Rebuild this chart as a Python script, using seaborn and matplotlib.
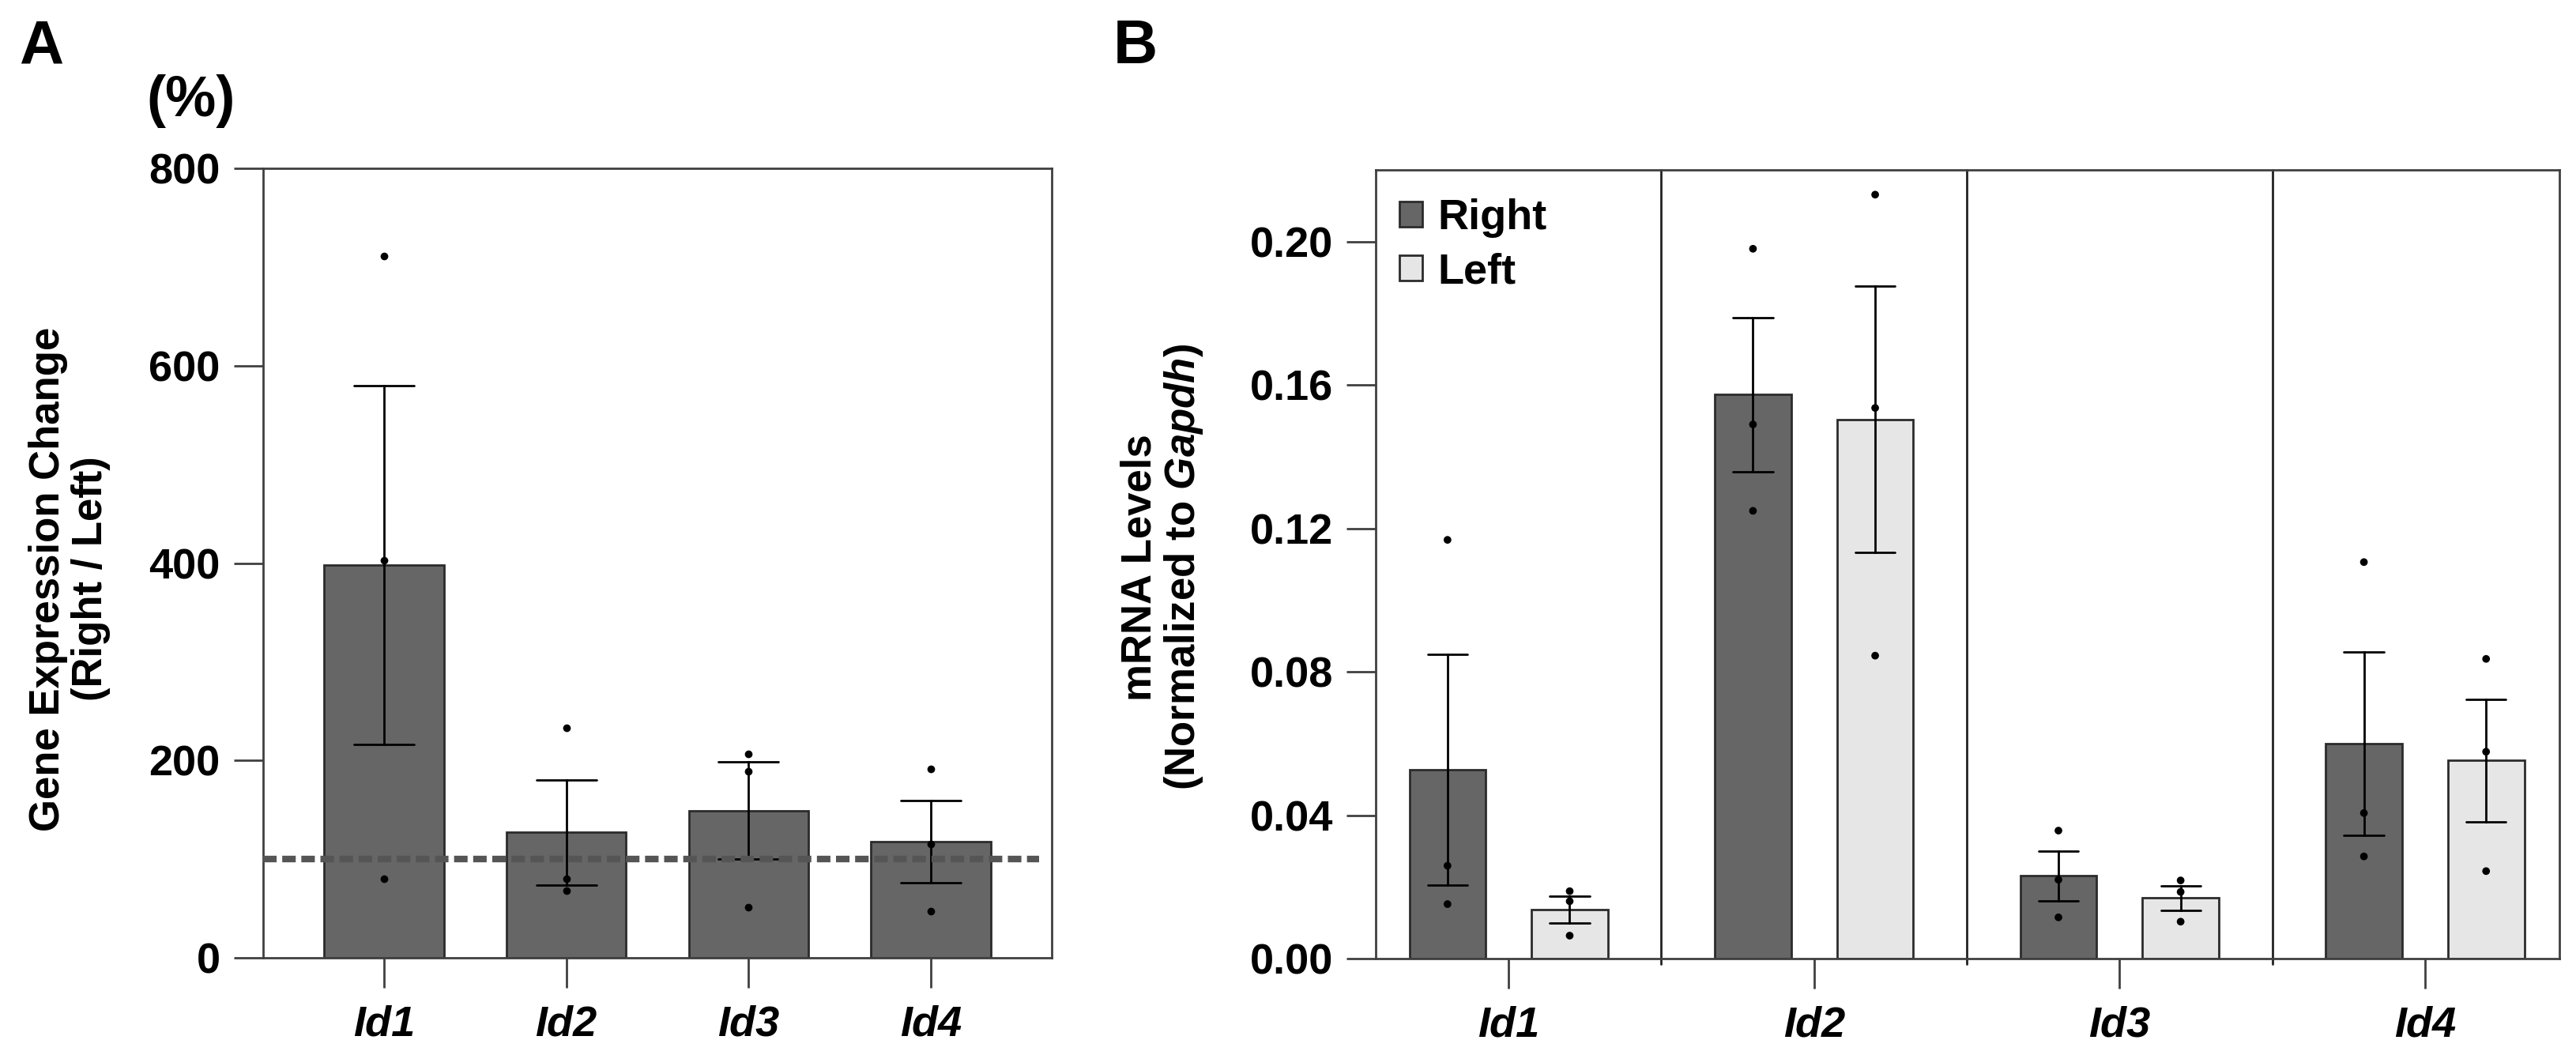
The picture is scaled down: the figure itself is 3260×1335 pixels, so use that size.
import numpy as np
import pandas as pd
import matplotlib
matplotlib.use("Agg")
import matplotlib.pyplot as plt
import seaborn as sns
from matplotlib.patches import Patch
from matplotlib.ticker import FormatStrFormatter

# ---------------- data ----------------
genes = ["Id1", "Id2", "Id3", "Id4"]
sides = ["Right", "Left"]

# Panel A: individual Right/Left ratios (%)
ratio_points = [[711, 403, 80], [233, 80, 68], [207, 189, 51], [191, 115, 47]]
ratio_ticks = [0, 200, 400, 600, 800]
baseline_pct = 100

# Panel B: individual mRNA levels (normalized to Gapdh)
right_points = [[0.1168, 0.0259, 0.0152], [0.1980, 0.1490, 0.1249],
                [0.0357, 0.0220, 0.0115], [0.1106, 0.0406, 0.0285]]
left_points = [[0.0188, 0.0160, 0.0064], [0.2131, 0.1536, 0.0845],
               [0.0218, 0.0186, 0.0103], [0.0836, 0.0577, 0.0244]]
mrna_ticks = [0.00, 0.04, 0.08, 0.12, 0.16, 0.20]

# ---------------- style ----------------
sns.set_style("ticks")
plt.rcParams["font.family"] = ["Liberation Sans", "DejaVu Sans"]
plt.rcParams["font.weight"] = "bold"
plt.rcParams["text.color"] = "black"
plt.rcParams["axes.labelcolor"] = "black"
plt.rcParams["xtick.labelcolor"] = "black"
plt.rcParams["ytick.labelcolor"] = "black"
plt.rcParams["mathtext.fontset"] = "custom"
plt.rcParams["mathtext.it"] = "Liberation Sans:italic:bold"
plt.rcParams["mathtext.rm"] = "Liberation Sans:bold"
plt.rcParams["mathtext.bf"] = "Liberation Sans:bold"

DARK = "#666666"
LIGHT = "#e6e6e6"
EDGE = "#2b2b2b"
SPINE = "#404040"
FS = 19.5

df_a = pd.DataFrame([(g, v) for g, pts in zip(genes, ratio_points) for v in pts],
                    columns=["gene", "ratio"])
df_b = pd.DataFrame([(g, s, v)
                     for s, series in zip(sides, [right_points, left_points])
                     for g, pts in zip(genes, series) for v in pts],
                    columns=["gene", "side", "level"])

fig = plt.figure(figsize=(16.3, 6.675), dpi=200)
axA = fig.add_axes([0.10215, 0.09213, 0.30613, 0.74831])
axB = fig.add_axes([0.53405, 0.09139, 0.45951, 0.74757])


def style_axes(ax):
    for sp in ax.spines.values():
        sp.set_visible(True)
        sp.set_linewidth(1.0)
        sp.set_color(SPINE)
    ax.tick_params(axis="both", direction="out", length=13.5, width=1.0,
                   color=SPINE, labelcolor="black", labelsize=FS)
    ax.tick_params(axis="y", pad=6)
    ax.tick_params(axis="x", pad=8)
    ax.set_xlabel("")
    ax.set_ylabel("")
    for lab in ax.get_xticklabels():
        lab.set_fontstyle("italic")
        lab.set_fontweight("bold")
    for lab in ax.get_yticklabels():
        lab.set_fontweight("bold")


# ---------------- Panel A ----------------
sns.barplot(data=df_a, x="gene", y="ratio", order=genes, errorbar="se",
            color=DARK, saturation=1, width=0.655, edgecolor=EDGE,
            linewidth=1.0, capsize=0.33,
            err_kws={"color": "black", "linewidth": 1.0}, ax=axA)
sns.stripplot(data=df_a, x="gene", y="ratio", order=genes, jitter=False,
              color="black", size=3.5, ax=axA, zorder=4)
axA.axhline(baseline_pct, xmin=0, xmax=0.984, color="#555555", lw=3.0,
            ls=(0, (2.05, 0.85)), zorder=3)
axA.set_xlim(-0.663, 3.663)
axA.set_ylim(0, 800)
axA.set_yticks(ratio_ticks)
style_axes(axA)
axA.text(-0.2455, 0.48, "Gene Expression Change\n(Right / Left)",
         rotation=90, ha="center", va="center", multialignment="center",
         transform=axA.transAxes, fontsize=19, fontweight="bold",
         color="black", linespacing=1.1)

# ---------------- Panel B ----------------
sns.barplot(data=df_b, x="gene", y="level", hue="side", order=genes,
            hue_order=sides, palette={"Right": DARK, "Left": LIGHT},
            saturation=1, errorbar="se", width=0.8, gap=0.375,
            edgecolor=EDGE, linewidth=1.0, capsize=0.26,
            err_kws={"color": "black", "linewidth": 1.0}, legend=False, ax=axB)
sns.stripplot(data=df_b, x="gene", y="level", hue="side", order=genes,
              hue_order=sides, palette={"Right": "black", "Left": "black"},
              dodge=True, jitter=False, size=3.5, legend=False, ax=axB,
              zorder=4)
for b in np.arange(len(genes) - 1) + 0.5:
    axB.axvline(b, ymin=-0.007, ymax=1, color="#222222", lw=1.0,
                zorder=0.5, clip_on=False)
axB.set_xlim(-0.435, 3.44)
axB.set_ylim(0, 0.22)
axB.set_yticks(mrna_ticks)
axB.yaxis.set_major_formatter(FormatStrFormatter("%.2f"))
style_axes(axB)
axB.text(-0.180, 0.496, "mRNA Levels\n(Normalized to $\\mathit{Gapdh}$)",
         rotation=90, ha="center", va="center", multialignment="center",
         transform=axB.transAxes, fontsize=19, fontweight="bold",
         color="black", linespacing=1.1)

handles = [Patch(facecolor=DARK, edgecolor=EDGE, linewidth=1.0, label=sides[0]),
           Patch(facecolor=LIGHT, edgecolor=EDGE, linewidth=1.0, label=sides[1])]
leg = axB.legend(handles=handles, loc="upper left", bbox_to_anchor=(0.02, 0.964),
                 frameon=False, fontsize=FS, handlelength=0.53, handleheight=0.52,
                 handletextpad=0.37, labelspacing=0.34, borderpad=0,
                 borderaxespad=0)
for t in leg.get_texts():
    t.set_fontweight("bold")
    t.set_color("black")

# ---------------- panel letters ----------------
fig.text(24 / 3260, 1 - 80 / 1335, "A", fontsize=28, fontweight="bold",
         ha="left", va="baseline", color="black")
fig.text(1409 / 3260, 1 - 80 / 1335, "B", fontsize=28, fontweight="bold",
         ha="left", va="baseline", color="black")
fig.text(185 / 3260, 1 - 147 / 1335, "(%)", fontsize=26, fontweight="bold",
         ha="left", va="baseline", color="black")

fig.savefig("out.png", dpi=200)
